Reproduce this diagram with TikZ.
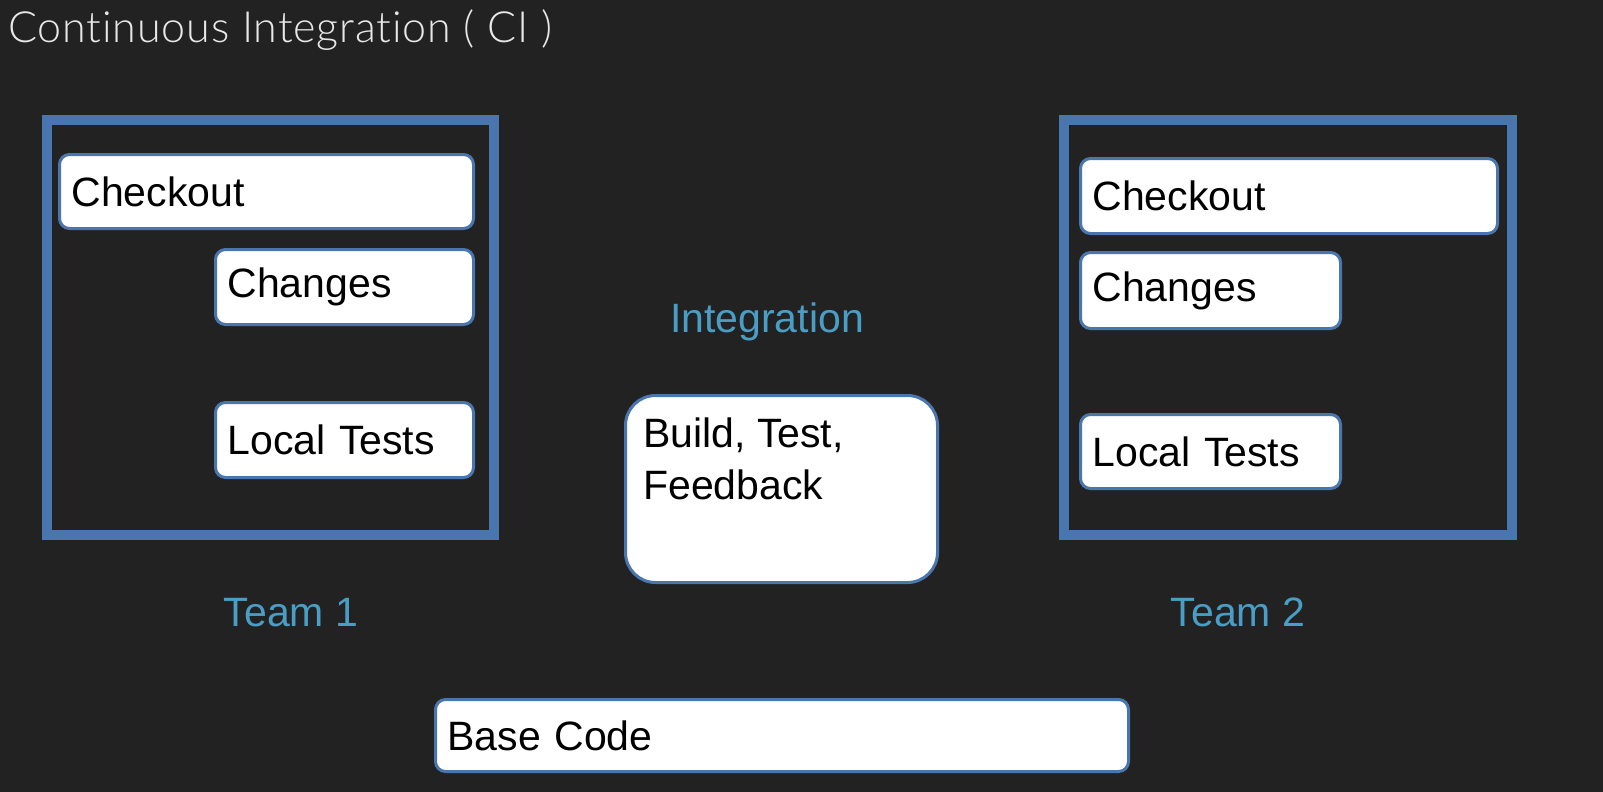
\documentclass[tikz,border=0pt]{standalone}
\usepackage{fontspec}
\setmainfont{Liberation Sans}
\newfontfamily\titlefont{Lato Light}[Ligatures=NoCommon, LetterSpace=2]
\definecolor{bgc}{HTML}{222222}
\definecolor{frameblue}{HTML}{4A76B0}
\definecolor{labelblue}{HTML}{4A9EC6}
\definecolor{titlegray}{HTML}{E8E8E8}
\tikzset{
  teamframe/.style={draw=frameblue, line width=10bp, inner sep=0pt},
  stepbox/.style={draw=frameblue, line width=3bp, fill=white, rounded corners=10bp,
    anchor=north west, inner xsep=12bp, inner ysep=0pt, align=left, text=black,
    font=\fontsize{41bp}{52bp}\selectfont},
  bigbox/.style={draw=frameblue, line width=3bp, fill=white, rounded corners=30bp,
    anchor=north west, inner sep=0pt},
  bluelabel/.style={text=labelblue, anchor=base, inner sep=0pt,
    font=\fontsize{41bp}{52bp}\selectfont},
}
\begin{document}
\begin{tikzpicture}[x=1bp,y=-1bp]
\fill[bgc] (0,0) rectangle (1603,792);
\useasboundingbox (0,0) rectangle (1603,792);

\node[anchor=base west, inner sep=0pt, text=titlegray, font=\titlefont\fontsize{43bp}{50bp}\selectfont] (title) at (8,43) {Continuous Integration ( CI )};

% Team 1
\node[teamframe, minimum width=447bp, minimum height=415bp] (t1frame) at (270.5,327.5) {};
\node[stepbox, minimum width=414bp, text width=390bp, minimum height=74bp] (co1) at (58,153) {Checkout};
\node[stepbox, minimum width=258bp, text width=234bp, minimum height=75bp] (ch1) at (214,248) {Changes};
\node[stepbox, minimum width=258bp, text width=234bp, minimum height=75bp] (lt1) at (214,401) {Local Tests};
\node[bluelabel] (team1) at (291,626) {Team 1};

% Team 2
\node[teamframe, minimum width=448bp, minimum height=415bp] (t2frame) at (1288,327.5) {};
\node[stepbox, minimum width=417bp, text width=393bp, minimum height=75bp] (co2) at (1079,157) {Checkout};
\node[stepbox, minimum width=260bp, text width=236bp, minimum height=76bp] (ch2) at (1079,251) {Changes};
\node[stepbox, minimum width=260bp, text width=236bp, minimum height=74bp] (lt2) at (1079,413) {Local Tests};
\node[bluelabel] (team2) at (1238,626) {Team 2};

% Integration
\node[bluelabel] (integ) at (767,332) {Integration};
\node[bigbox, minimum width=312bp, minimum height=187bp] (btf) at (624,394) {};
\node[anchor=north west, inner sep=0pt, align=left, text=black, font=\fontsize{41bp}{52bp}\selectfont] (btftext) at (643,418) {Build, Test,\\Feedback};

% Base code
\node[stepbox, minimum width=693bp, text width=669bp, minimum height=72bp] (base) at (434,698) {Base Code};
\end{tikzpicture}
\end{document}
